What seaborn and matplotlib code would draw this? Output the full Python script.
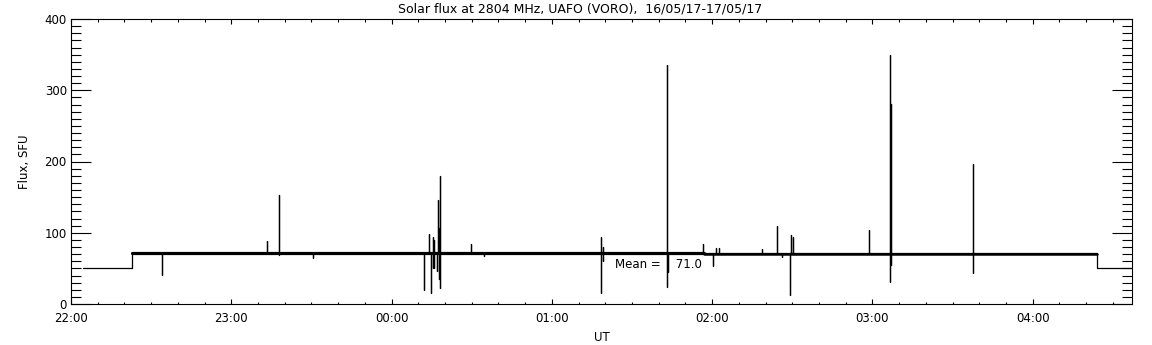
import numpy as np
import pandas as pd
import seaborn as sns
import matplotlib
matplotlib.use("Agg")
import matplotlib.pyplot as plt
import matplotlib.dates as mdates

# --- data (times UT, flux in SFU) ---
day0 = "2017-05-16"
day1 = "2017-05-17"

level_times = ["22:04:30", "22:22:50", "04:24:02", "04:37:10"]
level_values = [50, 71, 71, 50]
baseline = 71.0
# the quiet level is a noisy band: wider before ~01:57, narrower after
band_times = ["22:22:50", "01:57:00", "04:24:02"]

spike_times = [
    "22:34:04", "23:13:22", "23:17:51", "23:30:35",
    "00:12:07", "00:14:00", "00:14:45", "00:15:30", "00:15:52",
    "00:17:00", "00:17:22", "00:17:45", "00:18:07", "00:29:43", "00:34:35",
    "01:18:23", "01:19:08", "01:43:05", "01:43:25", "01:56:33",
    "02:00:18", "02:01:25", "02:02:33", "02:18:38", "02:24:15", "02:26:07",
    "02:29:07", "02:29:30", "02:30:14", "02:58:42",
    "03:06:33", "03:06:56", "03:37:37",
]
spike_highs = [
    71, 89, 153, 71,
    71, 98, 71, 94, 90,
    71, 146, 107, 180, 84, 71,
    94, 80, 335, 71, 84,
    71, 79, 78, 77, 109, 71,
    71, 97, 94, 104,
    350, 281, 196,
]
spike_lows = [
    41, 71, 69, 64,
    20, 71, 15, 50, 50,
    46, 71, 35, 22, 71, 67,
    15, 60, 24, 45, 71,
    54, 71, 71, 71, 71, 66,
    12, 71, 71, 71,
    31, 55, 44,
]

mean_flux = 71.0


def to_dt(t):
    day = day0 if t >= "12:00:00" else day1
    return pd.Timestamp(f"{day} {t}")


# build the trace: flat levels plus vertical excursions at each spike
rows = [(to_dt(level_times[0]), level_values[0]),
        (to_dt(level_times[1]), level_values[0]),
        (to_dt(level_times[1]), level_values[1])]
for t, hi, lo in zip(spike_times, spike_highs, spike_lows):
    ts = to_dt(t)
    rows += [(ts, baseline), (ts, hi), (ts, lo), (ts, baseline)]
rows += [(to_dt(level_times[2]), level_values[2]),
         (to_dt(level_times[2]), level_values[3]),
         (to_dt(level_times[3]), level_values[3])]
trace = pd.DataFrame(rows, columns=["time", "flux"])

band1 = pd.DataFrame({"time": [to_dt(band_times[0]), to_dt(band_times[1])],
                      "flux": [baseline, baseline]})
band2 = pd.DataFrame({"time": [to_dt(band_times[1]), to_dt(band_times[2])],
                      "flux": [baseline - 0.3, baseline - 0.3]})

sns.set_style("ticks")
plt.rcParams["font.family"] = ["DejaVu Sans"]
plt.rcParams.update({"text.color": "black", "axes.labelcolor": "black",
                     "xtick.color": "black", "ytick.color": "black"})

fig = plt.figure(figsize=(11.52, 3.45), dpi=100)
ax = fig.add_axes([71 / 1152, 1 - 304 / 345, (1132 - 71) / 1152, (304 - 19) / 345])

sns.lineplot(data=band1, x="time", y="flux", ax=ax, color="black",
             lw=2.3, estimator=None, sort=False)
sns.lineplot(data=band2, x="time", y="flux", ax=ax, color="black",
             lw=1.8, estimator=None, sort=False)
sns.lineplot(data=trace, x="time", y="flux", ax=ax, color="black",
             lw=0.9, estimator=None, sort=False)

ax.set_xlim(pd.Timestamp(f"{day0} 22:00"), pd.Timestamp(f"{day1} 04:37:10"))
ax.set_ylim(0, 400)
ax.xaxis.set_major_locator(mdates.HourLocator())
ax.xaxis.set_minor_locator(mdates.MinuteLocator(byminute=[10, 20, 30, 40, 50]))
ax.xaxis.set_major_formatter(mdates.DateFormatter("%H:%M"))
ax.set_yticks([0, 100, 200, 300, 400])
ax.set_yticks(np.arange(0, 401, 10), minor=True)

ax.tick_params(which="both", direction="in", top=True, right=True,
               width=0.8, colors="black", labelcolor="black", labelsize=8.5)
ax.tick_params(axis="x", which="major", length=3.8, pad=6)
ax.tick_params(axis="x", which="minor", length=1.8)
ax.tick_params(axis="y", which="major", length=14.4, pad=3)
ax.tick_params(axis="y", which="minor", length=7.2)
for s in ax.spines.values():
    s.set_linewidth(0.8)
    s.set_color("black")

ax.set_xlabel("UT", fontsize=8.5, labelpad=4, color="black")
ax.set_ylabel("Flux, SFU", fontsize=8.5, labelpad=10, color="black")
fig.text(580 / 1152, 1 - 9 / 345, "Solar flux at 2804 MHz, UAFO (VORO),  16/05/17-17/05/17",
         ha="center", va="center", fontsize=9, color="black")

ax.text(to_dt("01:23:40"), 55, f"Mean =    {mean_flux:.1f}", fontsize=8.5,
        ha="left", va="center", color="black")

fig.savefig("out.png", dpi=100, facecolor="white")
